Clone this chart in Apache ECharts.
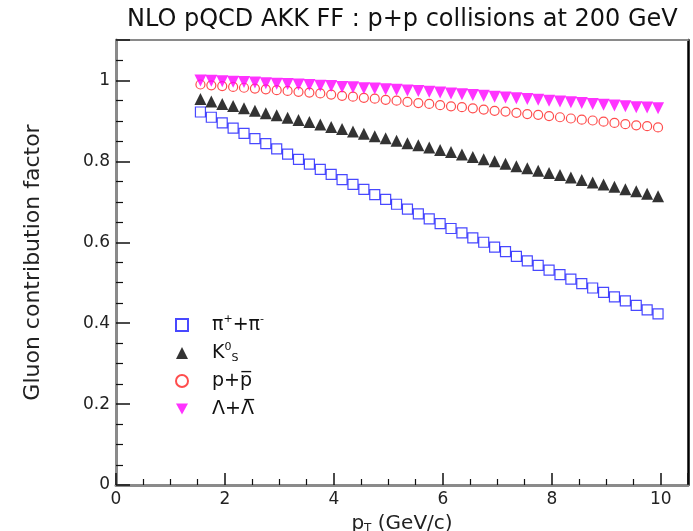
<!DOCTYPE html>
<html><head><meta charset="utf-8">
<script src="https://cdn.jsdelivr.net/npm/echarts@6/dist/echarts.min.js"></script>
<style>html,body{margin:0;padding:0;background:#fff}#c{width:693px;height:531px}</style>
</head><body><div id="c"></div>
<script>
const titleText = 'NLO pQCD AKK FF : p+p collisions at 200 GeV';
const yTitle = 'Gluon contribution factor';
const pT = [1.55,1.75,1.95,2.15,2.35,2.55,2.75,2.95,3.15,3.35,3.55,3.75,3.95,4.15,4.35,4.55,4.75,4.95,5.15,5.35,5.55,5.75,5.95,6.15,6.35,6.55,6.75,6.95,7.15,7.35,7.55,7.75,7.95,8.15,8.35,8.55,8.75,8.95,9.15,9.35,9.55,9.75,9.95];
const seriesNames = ['π++π-', 'K0S', 'p+p\u0305', 'Λ+Λ\u0305'];
const piValues = [0.922,0.909,0.895,0.882,0.869,0.856,0.844,0.831,0.818,0.805,0.793,0.780,0.768,0.755,0.743,0.731,0.718,0.706,0.694,0.682,0.670,0.658,0.646,0.634,0.623,0.611,0.600,0.588,0.577,0.565,0.554,0.543,0.531,0.520,0.509,0.498,0.487,0.476,0.465,0.455,0.444,0.433,0.423];
const k0sValues = [0.954,0.948,0.942,0.937,0.931,0.925,0.919,0.914,0.908,0.902,0.897,0.891,0.885,0.880,0.874,0.868,0.862,0.857,0.851,0.845,0.840,0.834,0.828,0.823,0.817,0.811,0.805,0.800,0.794,0.788,0.783,0.777,0.771,0.766,0.760,0.754,0.748,0.743,0.737,0.731,0.726,0.720,0.714];
const protonValues = [0.990,0.988,0.986,0.984,0.982,0.980,0.978,0.976,0.974,0.972,0.970,0.968,0.965,0.962,0.960,0.957,0.955,0.952,0.950,0.947,0.944,0.942,0.939,0.936,0.934,0.931,0.928,0.925,0.923,0.920,0.917,0.915,0.912,0.909,0.906,0.903,0.901,0.898,0.895,0.892,0.889,0.887,0.884];
const lambdaValues = [1.000,0.999,0.998,0.997,0.996,0.995,0.993,0.992,0.991,0.990,0.989,0.987,0.986,0.984,0.983,0.981,0.980,0.978,0.977,0.975,0.974,0.972,0.970,0.968,0.966,0.964,0.962,0.960,0.958,0.956,0.954,0.952,0.950,0.948,0.946,0.944,0.942,0.940,0.938,0.936,0.934,0.933,0.931];

const legendRich = {
  'π++π-': '{sp| }π{sup|+}+π{sup|-}',
  'K0S': '{sp| }K{sup|0}{sub|S}',
  'p+p\u0305': '{sp| }p+p\u0305',
  'Λ+Λ\u0305': '{sp| }Λ+Λ\u0305'
};
const pair = vals => pT.map((x, i) => [x, vals[i]]);
const FONT = 'DejaVu Sans';
const downTri = 'path://M0,0 L10,0 L5,9 Z';

const chart = echarts.init(document.getElementById('c'), null, {renderer: 'canvas'});
chart.setOption({
  animation: false,
  backgroundColor: '#fff',
  title: {
    text: titleText, left: 122, top: 3,
    textStyle: {fontFamily: FONT, fontSize: 24, fontWeight: 'normal', color: '#111'}
  },
  grid: {left: 116, top: 40, right: 5, bottom: 46, containLabel: false, outerBoundsMode: 'none'},
  legend: {
    orient: 'vertical', left: 170, top: 309, itemWidth: 12, itemHeight: 12, itemGap: 6,
    data: [
      {name: seriesNames[0]},
      {name: seriesNames[1]},
      {name: seriesNames[2]},
      {name: seriesNames[3], icon: downTri}
    ],
    formatter: n => legendRich[n],
    textStyle: {
      fontFamily: FONT, fontSize: 19, color: '#111', lineHeight: 22,
      rich: {
        sp: {width: 19},
        sup: {fontSize: 11, lineHeight: 11, verticalAlign: 'top', fontFamily: FONT, color: '#111'},
        sub: {fontSize: 11, lineHeight: 11, verticalAlign: 'bottom', fontFamily: FONT, color: '#111'}
      }
    }
  },
  xAxis: [{
    type: 'value', min: 0, max: 10.5, interval: 2,
    name: 'p{s|T} (GeV/c)', nameLocation: 'middle', nameGap: 16,
    nameTextStyle: {fontFamily: FONT, fontSize: 20, color: '#222', lineHeight: 22, rich: {s: {fontSize: 12, verticalAlign: 'bottom', lineHeight: 12, fontFamily: FONT, color: '#222'}}},
    axisLine: {show: true, onZero: false, lineStyle: {color: '#8a8a8a', width: 3}},
    axisTick: {show: true, inside: true, length: 12, lineStyle: {color: '#111', width: 1.5}},
    minorTick: {show: true, splitNumber: 4, length: 6, lineStyle: {color: '#111', width: 1.2}},
    axisLabel: {show: true, margin: 6, fontFamily: FONT, fontSize: 17, color: '#222', showMaxLabel: false},
    splitLine: {show: false}
  }, {
    type: 'value', min: 0, max: 10.5, position: 'top',
    axisLine: {show: true, onZero: false, lineStyle: {color: '#8a8a8a', width: 2}},
    axisTick: {show: false}, axisLabel: {show: false}, splitLine: {show: false}
  }],
  yAxis: [{
    type: 'value', min: 0, max: 1.1, interval: 0.2,
    name: yTitle, nameLocation: 'middle', nameGap: 72, nameRotate: 90,
    nameTextStyle: {fontFamily: FONT, fontSize: 22, color: '#222'},
    axisLine: {show: true, onZero: false, lineStyle: {color: '#8a8a8a', width: 3}},
    axisTick: {show: true, inside: true, length: 14, lineStyle: {color: '#111', width: 1.5}},
    minorTick: {show: true, splitNumber: 4, length: 7, lineStyle: {color: '#111', width: 1.2}},
    axisLabel: {show: true, margin: 6, fontFamily: FONT, fontSize: 17, color: '#222', showMaxLabel: false},
    splitLine: {show: false}
  }, {
    type: 'value', min: 0, max: 1.1, position: 'right',
    axisLine: {show: true, onZero: false, lineStyle: {color: '#000', width: 2.5}},
    axisTick: {show: false}, axisLabel: {show: false}, splitLine: {show: false}
  }],
  series: [{
    name: seriesNames[0], type: 'scatter', data: pair(piValues),
    symbol: 'rect', symbolSize: 10,
    itemStyle: {color: 'rgba(255,255,255,0)', borderColor: '#1a1aff', borderWidth: 1.2}
  }, {
    name: seriesNames[1], type: 'scatter', data: pair(k0sValues),
    symbol: 'triangle', symbolSize: 12,
    itemStyle: {color: '#000'}
  }, {
    name: seriesNames[2], type: 'scatter', data: pair(protonValues),
    symbol: 'circle', symbolSize: 9,
    itemStyle: {color: 'rgba(255,255,255,0)', borderColor: '#ff2020', borderWidth: 1.2}
  }, {
    name: seriesNames[3], type: 'scatter', data: pair(lambdaValues),
    symbol: 'triangle', symbolRotate: 180, symbolSize: 12,
    itemStyle: {color: '#ff00ff'}
  }]
});
</script>
</body></html>
